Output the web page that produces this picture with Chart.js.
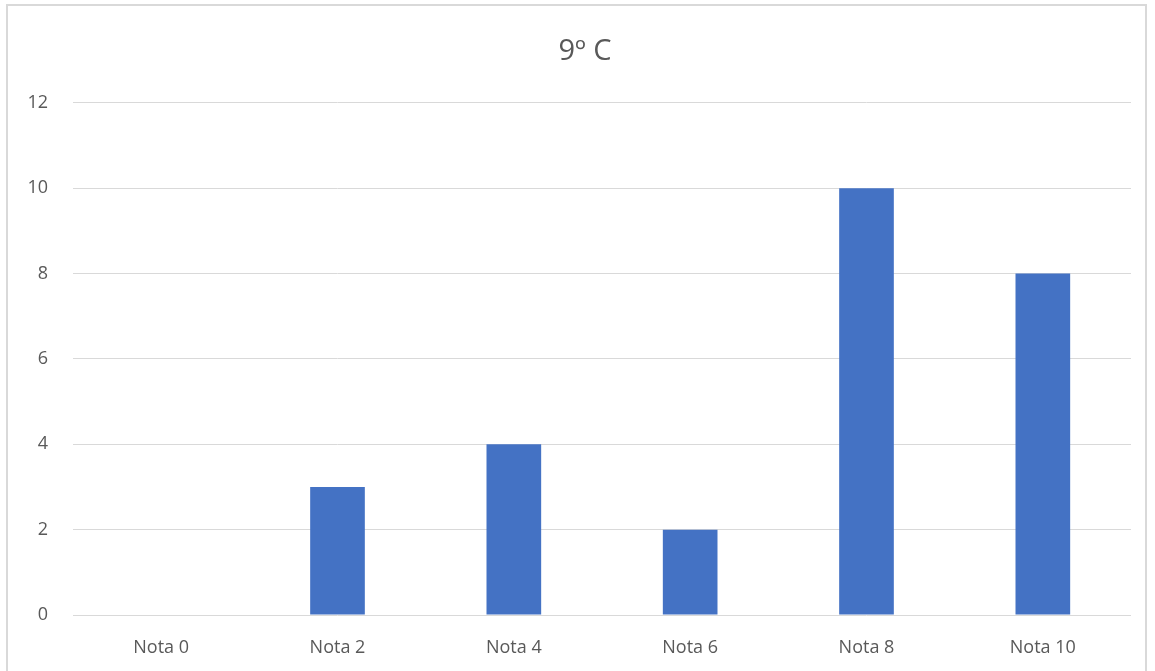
<!DOCTYPE html>
<html>
<head>
<meta charset="utf-8">
<script src="https://cdn.jsdelivr.net/npm/chart.js@4.4.0/dist/chart.umd.min.js"></script>
<style>
  body { margin: 0; background: #fff; }
  .frame {
    position: absolute; left: 6px; top: 4px;
    width: 1141px; height: 700px;
    border: 2px solid #d9d9d9; box-sizing: border-box;
  }
  .wrap { position: absolute; left: 0; top: 0; width: 1155px; height: 671px; }
</style>
</head>
<body>
<div class="frame"></div>
<div class="wrap"><canvas id="notasChart" width="1155" height="671"></canvas></div>
<script>
// data
const categories = ["Nota 0", "Nota 2", "Nota 4", "Nota 6", "Nota 8", "Nota 10"];
const alunos = [0, 3, 4, 2, 10, 8];
const yTicks = [0, 2, 4, 6, 8, 10, 12];

const textGray = "#595959";
const fontFamily = "'Open Sans', 'Noto Sans', sans-serif";

var ctx = document.getElementById("notasChart").getContext("2d");

// title sits a bit right of canvas centre, like in the original
const shiftTitle = {
  id: "shiftTitle",
  afterLayout(chart) {
    if (chart.titleBlock) {
      chart.titleBlock.left = 39;
    }
  }
};

var notasChart = new Chart(ctx, {
  type: "bar",
  data: {
    labels: categories,
    datasets: [{
      label: "9º C",
      data: alunos,
      backgroundColor: "#4472c4",
      borderWidth: 0,
      barPercentage: 0.31,
      categoryPercentage: 1
    }]
  },
  options: {
    responsive: false,
    animation: false,
    layout: { padding: { top: 34, right: 24, left: 0, bottom: 0 } },
    scales: {
      x: {
        grid: { display: false },
        border: { display: false },
        ticks: { color: textGray, font: { family: fontFamily, size: 18 }, padding: 14, maxRotation: 0 },
        afterFit: function (scale) { scale.height = 56; }
      },
      y: {
        min: 0,
        max: 12,
        afterBuildTicks: function (scale) {
          scale.ticks = yTicks.map(v => ({ value: v }));
        },
        grid: { color: "#d9d9d9", lineWidth: 1, drawTicks: false },
        border: { display: false },
        ticks: { color: textGray, font: { family: fontFamily, size: 18 }, padding: 25 },
        afterFit: function (scale) { scale.width = 73; }
      }
    },
    plugins: {
      legend: { display: false },
      tooltip: { enabled: false },
      title: {
        display: true,
        text: "9º C",
        color: textGray,
        font: { family: fontFamily, size: 29, weight: "normal" },
        padding: { top: 0, bottom: 34 }
      }
    }
  },
  plugins: [shiftTitle]
});
</script>
</body>
</html>
